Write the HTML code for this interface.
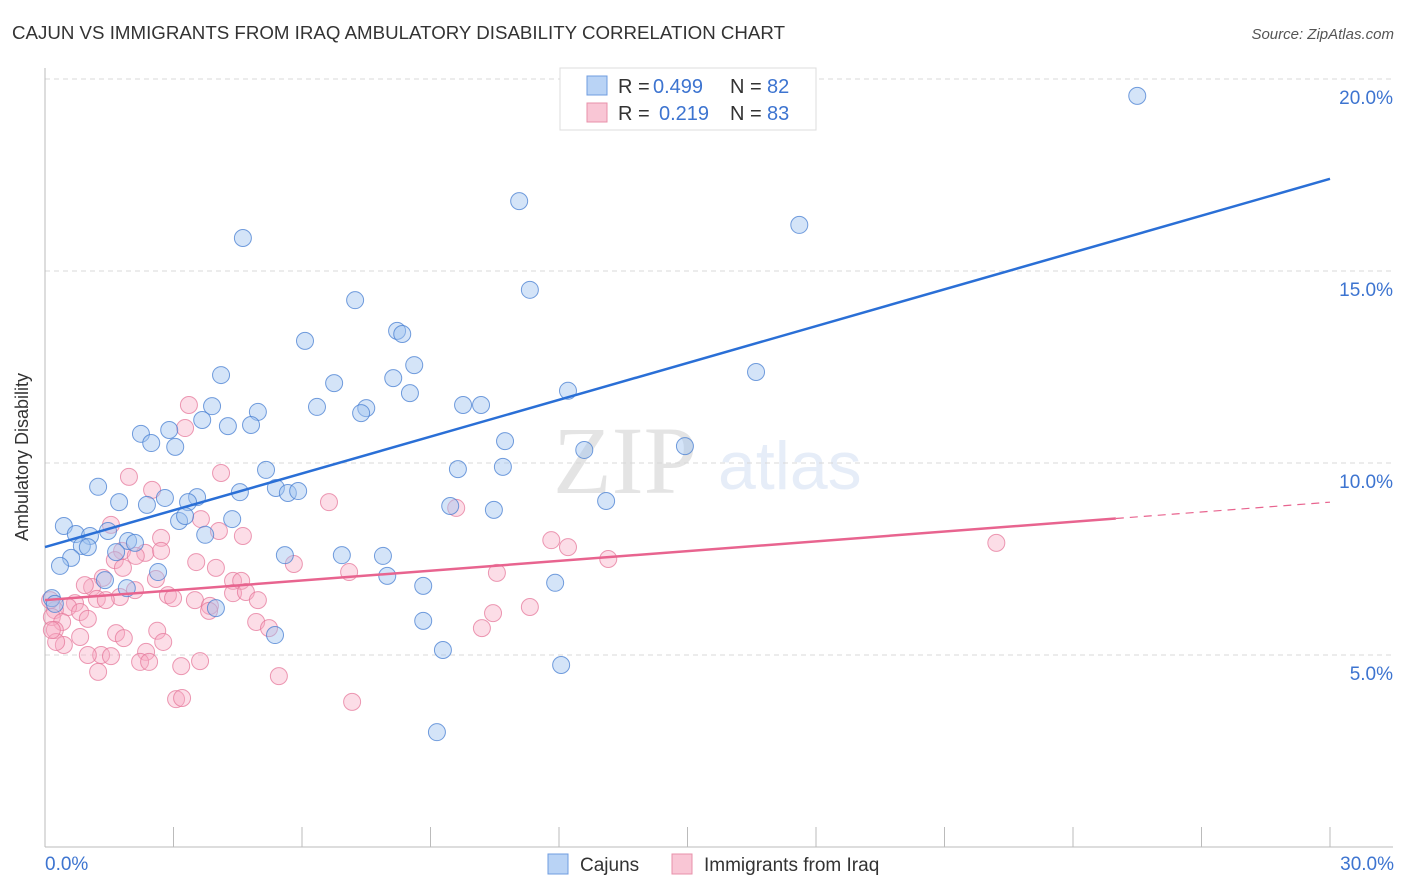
<!DOCTYPE html>
<html><head><meta charset="utf-8">
<style>
body{margin:0;background:#fff;font-family:"Liberation Sans",sans-serif;}
#wrap{position:relative;width:1406px;height:892px;overflow:hidden;}
</style></head>
<body>
<div id="wrap">
<svg id="chart" width="1406" height="892" xmlns="http://www.w3.org/2000/svg">
<text x="12" y="39" font-size="18" fill="#333" textLength="773" lengthAdjust="spacingAndGlyphs">CAJUN VS IMMIGRANTS FROM IRAQ AMBULATORY DISABILITY CORRELATION CHART</text>
<text x="1394" y="39" font-size="15" fill="#555" font-style="italic" text-anchor="end">Source: ZipAtlas.com</text>
<g opacity="0.22">
<text x="553" y="493" font-family="Liberation Serif,serif" font-size="96" fill="#888">ZIP</text>
<text x="718" y="489" font-size="68" fill="#8fb0e0">atlas</text>
</g>
<g id="grid"></g>
<g id="axes"></g>
<g id="pts"></g>
<g id="lines"></g>
<text x="26" y="455" font-size="18" fill="#333" text-anchor="middle" transform="rotate(-90 28 455)">Ambulatory Disability</text>
<g>
<rect x="560" y="68" width="256" height="62" fill="#fff" stroke="#ddd"/>
<rect x="587" y="76" width="20" height="19" fill="#b9d3f5" stroke="#6f9de0"/>
<text x="618" y="93" font-size="20" fill="#333">R = </text><text x="653" y="93" font-size="20" fill="#3d74d0">0.499</text>
<text x="730" y="93" font-size="20" fill="#333">N = </text><text x="767" y="93" font-size="20" fill="#3d74d0">82</text>
<rect x="587" y="103" width="20" height="19" fill="#f9c6d5" stroke="#e890aa"/>
<text x="618" y="120" font-size="20" fill="#333">R = </text><text x="659" y="120" font-size="20" fill="#3d74d0">0.219</text>
<text x="730" y="120" font-size="20" fill="#333">N = </text><text x="767" y="120" font-size="20" fill="#3d74d0">83</text>
</g>
<g>
<rect x="548" y="854" width="20" height="20" fill="#b9d3f5" stroke="#6f9de0"/>
<text x="580" y="871" font-size="19" fill="#333">Cajuns</text>
<rect x="672" y="854" width="20" height="20" fill="#f9c6d5" stroke="#e890aa"/>
<text x="704" y="871" font-size="19" fill="#333">Immigrants from Iraq</text>
</g>
</svg>
</div>
<script>
const xTicksPct=[0,3,6,9,12,15,18,21,24,27,30];
const yGridPct=[5,10,15,20];
const yTickLabels=["5.0%","10.0%","15.0%","20.0%"];
const xEndLabels=["0.0%","30.0%"];
const cajunsX=[25.50,11.07,17.61,4.62,11.32,7.24,6.07,8.22,8.34,8.62,4.11,6.75,8.13,8.52,12.21,16.60,3.90,4.97,6.35,7.50,7.38,9.76,10.18,3.67,4.27,4.81,2.24,2.90,2.48,3.04,10.74,12.59,14.94,5.16,9.64,10.69,1.24,4.55,5.39,5.67,5.91,2.80,3.55,3.34,1.73,2.38,13.10,9.46,10.48,4.37,3.13,3.27,0.44,0.72,1.05,1.47,3.74,0.86,1.00,1.94,2.10,1.66,0.61,0.35,6.93,7.89,5.60,2.64,7.99,11.91,1.40,1.91,8.83,0.16,0.23,3.99,5.37,8.83,9.29,12.05,9.15];
const cajunsY=[19.56,16.82,16.20,15.86,14.51,14.24,13.18,13.44,13.36,12.55,12.29,12.08,12.21,11.82,11.88,12.37,11.48,11.33,11.46,11.43,11.30,11.51,11.51,11.12,10.96,10.99,10.76,10.86,10.52,10.42,10.57,10.34,10.44,9.82,9.84,9.90,9.38,9.24,9.35,9.22,9.27,9.09,9.11,8.98,8.98,8.91,9.01,8.88,8.78,8.54,8.49,8.62,8.36,8.15,8.10,8.23,8.13,7.84,7.81,7.97,7.92,7.68,7.53,7.32,7.60,7.58,7.60,7.16,7.06,6.88,6.95,6.74,6.80,6.48,6.33,6.22,5.52,5.89,5.13,4.74,2.99];
const iraqX=[3.36,3.27,4.11,1.96,2.50,6.63,9.60,1.54,3.64,4.06,4.62,2.71,11.82,12.21,22.21,1.80,2.34,1.63,2.71,2.12,13.15,3.53,1.82,3.99,5.81,7.10,10.55,2.59,4.39,1.35,4.58,1.10,2.87,2.99,1.75,1.21,1.42,4.39,4.69,4.97,3.50,3.85,3.83,0.70,0.54,0.23,0.82,0.16,1.00,0.40,11.32,10.46,0.23,0.82,1.66,2.62,1.84,0.44,0.26,2.76,10.20,4.93,5.23,1.31,1.00,2.36,1.54,2.22,3.18,3.62,2.43,1.24,5.46,3.06,3.20,7.17,0.16,0.12,0.93,2.10];
const iraqY=[11.51,10.91,9.74,9.64,9.30,8.98,8.83,8.39,8.54,8.23,8.10,8.05,7.99,7.81,7.92,7.71,7.66,7.47,7.71,7.58,7.50,7.42,7.27,7.27,7.37,7.16,7.14,6.98,6.93,7.01,6.93,6.77,6.56,6.48,6.51,6.46,6.43,6.61,6.64,6.43,6.43,6.28,6.15,6.35,6.25,6.17,6.12,5.99,5.94,5.86,6.25,6.09,5.65,5.47,5.57,5.63,5.44,5.26,5.34,5.34,5.70,5.86,5.70,5.00,5.00,5.08,4.97,4.82,4.71,4.84,4.82,4.56,4.45,3.85,3.88,3.78,5.65,6.43,6.82,6.69];
const cajunsTrend=[7.81,17.40];
const iraqTrend=[6.43,8.98];
const iraqSolidEnd=25;

const NS="http://www.w3.org/2000/svg";
const X0=45,X1=1330,Y0=847,PXPCT=38.4;
function sx(v){return X0+(v/30)*(X1-X0);}
function sy(v){return Y0-v*PXPCT;}
function mk(tag,attrs,parent){const e=document.createElementNS(NS,tag);for(const k in attrs)e.setAttribute(k,attrs[k]);parent.appendChild(e);return e;}
const grid=document.getElementById('grid'),axes=document.getElementById('axes'),pts=document.getElementById('pts'),lines=document.getElementById('lines');
yGridPct.forEach((v,i)=>{
  const l=mk('line',{x1:X0,x2:1393,y1:sy(v),y2:sy(v),stroke:'#d8d8d8','stroke-dasharray':'5,4'},grid);
  
  
  const t=mk('text',{x:1393,y:sy(v)+25,'font-size':19,fill:'#3d74d0','text-anchor':'end'},grid);
  t.textContent=yTickLabels[i];
  
  
});
const ya=mk('line',{x1:X0,x2:X0,y1:68,y2:Y0,stroke:'#bbb'},axes);


const xa=mk('line',{x1:X0,x2:1393,y1:Y0,y2:Y0,stroke:'#bbb'},axes);


xTicksPct.forEach(v=>{
  const t=mk('line',{x1:sx(v),x2:sx(v),y1:827,y2:Y0,stroke:'#bbb'},axes);
  
  
});
const xl0=mk('text',{x:45,y:870,'font-size':19,fill:'#3d74d0'},axes);xl0.textContent=xEndLabels[0];


const xl1=mk('text',{x:1394,y:870,'font-size':19,fill:'#3d74d0','text-anchor':'end'},axes);xl1.textContent=xEndLabels[1];


iraqX.forEach((v,i)=>{
  const c=mk('circle',{cx:sx(v),cy:sy(iraqY[i]),r:8.5,fill:'rgba(247,170,195,0.4)',stroke:'rgba(230,120,155,0.75)','stroke-width':1},pts);
  
  
});
cajunsX.forEach((v,i)=>{
  const c=mk('circle',{cx:sx(v),cy:sy(cajunsY[i]),r:8.5,fill:'rgba(160,195,240,0.45)',stroke:'rgba(70,125,210,0.75)','stroke-width':1},pts);
  
  
});
const bl=mk('line',{x1:sx(0),y1:sy(cajunsTrend[0]),x2:sx(30),y2:sy(cajunsTrend[1]),stroke:'#2a6fd6','stroke-width':2.5},lines);


const pm=iraqTrend[0]+(iraqTrend[1]-iraqTrend[0])*iraqSolidEnd/30;
const pl=mk('line',{x1:sx(0),y1:sy(iraqTrend[0]),x2:sx(iraqSolidEnd),y2:sy(pm),stroke:'#e8648f','stroke-width':2.5},lines);


const pd=mk('line',{x1:sx(iraqSolidEnd),y1:sy(pm),x2:sx(30),y2:sy(iraqTrend[1]),stroke:'#e8648f','stroke-width':1.2,'stroke-dasharray':'8,6'},lines);


</script>
</body></html>
